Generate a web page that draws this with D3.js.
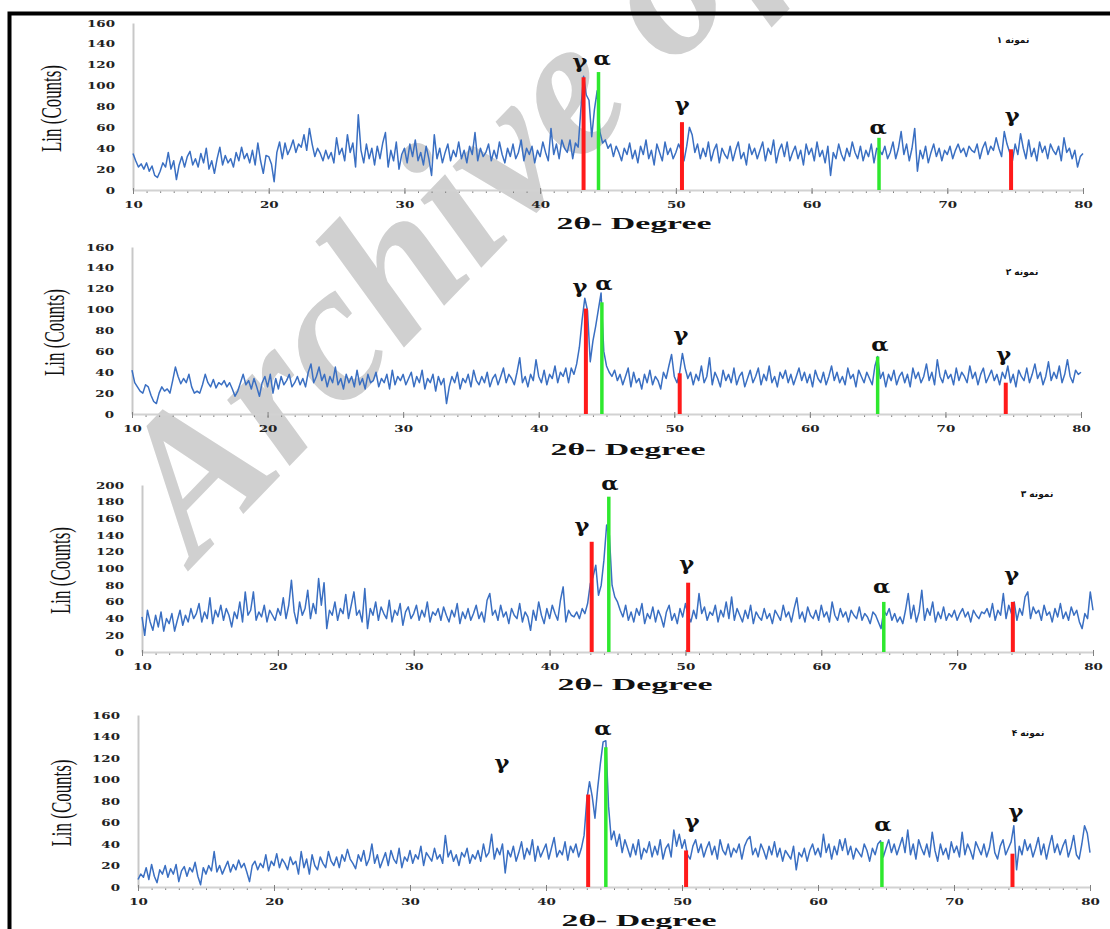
<!DOCTYPE html>
<html>
<head>
<meta charset="utf-8">
<script src="https://cdn.jsdelivr.net/npm/d3@7/dist/d3.min.js"></script>
<style>
  html, body { margin: 0; padding: 0; background: #fff; }
  svg { display: block; }
</style>
</head>
<body>
<div id="chart"></div>
<script>
// XRD scans, 2theta 10..80 read every 0.2 degree
const scanStart = 10;
const scanStep = 0.2;
const xTicks = [10, 20, 30, 40, 50, 60, 70, 80];
const yTicks160 = [0, 20, 40, 60, 80, 100, 120, 140, 160];
const yTicks200 = [0, 20, 40, 60, 80, 100, 120, 140, 160, 180, 200];
const sampleTitles = ['نمونه ۱', 'نمونه ۲', 'نمونه ۳', 'نمونه ۴'];

const counts1 = [
  35, 28, 22, 25, 20, 26, 18, 23, 14, 12,
  18, 26, 22, 36, 20, 28, 10, 24, 32, 22,
  32, 37, 24, 30, 22, 35, 26, 40, 20, 28,
  16, 30, 41, 24, 33, 26, 30, 22, 36, 28,
  41, 30, 35, 26, 38, 24, 45, 28, 16, 33,
  32, 25, 8, 36, 46, 30, 45, 34, 40, 48,
  36, 44, 41, 53, 38, 59, 44, 32, 40, 35,
  28, 38, 30, 36, 26, 50, 34, 40, 28, 53,
  36, 45, 22, 72, 38, 26, 44, 30, 40, 24,
  42, 30, 45, 55, 22, 38, 28, 46, 20, 34,
  40, 26, 44, 32, 48, 28, 36, 24, 42, 30,
  14, 53, 30, 40, 26, 36, 44, 28, 38, 32,
  46, 30, 38, 26, 42, 34, 55, 28, 40, 32,
  36, 44, 28, 38, 30, 46, 34, 26, 40, 32,
  44, 30, 36, 48, 28, 40, 34, 42, 26, 38,
  32, 46, 36, 28, 59, 34, 44, 30, 48, 40,
  36, 48, 30, 45, 41, 77, 109, 91, 86, 51,
  77, 95, 56, 45, 48, 40, 44, 32, 42, 36,
  28, 40, 34, 45, 30, 38, 26, 42, 34, 48,
  30, 38, 24, 44, 36, 28, 46, 34, 40, 30,
  36, 44, 38, 28, 42, 60, 53, 36, 44, 30,
  40, 32, 46, 28, 38, 44, 26, 40, 34, 30,
  42, 28, 38, 46, 30, 36, 24, 44, 34, 40,
  30, 38, 46, 28, 40, 34, 48, 26, 38, 44,
  32, 46, 28, 36, 42, 30, 38, 24, 44, 34,
  40, 28, 46, 32, 38, 26, 42, 14, 36, 30,
  44, 34, 28, 40, 32, 46, 36, 30, 42, 28,
  38, 32, 44, 26, 40, 38, 34, 42, 30, 36,
  46, 30, 40, 56, 34, 44, 28, 40, 59, 18,
  38, 30, 42, 26, 36, 44, 32, 40, 28, 38,
  34, 42, 30, 38, 44, 36, 40, 32, 42, 38,
  36, 44, 30, 40, 46, 34, 42, 38, 50, 40,
  32, 56, 44, 36, 28, 44, 34, 54, 40, 30,
  48, 32, 40, 28, 46, 36, 42, 30, 44, 38,
  34, 42, 28, 50, 36, 40, 30, 38, 22, 32,
  35
];

const counts2 = [
  42, 30, 26, 22, 20, 28, 26, 18, 12, 10,
  20, 26, 22, 24, 20, 32, 45, 36, 29, 34,
  30, 38, 26, 20, 22, 20, 28, 38, 30, 26,
  33, 25, 30, 28, 32, 26, 30, 24, 17, 22,
  30, 38, 28, 32, 24, 34, 26, 17, 30, 36,
  26, 38, 20, 34, 24, 36, 28, 32, 38, 26,
  30, 36, 28, 34, 26, 40, 48, 30, 36, 45,
  32, 38, 26, 36, 30, 45, 28, 34, 24, 38,
  30, 36, 26, 42, 28, 34, 24, 38, 30, 32,
  40, 26, 34, 30, 38, 24, 42, 28, 36, 32,
  38, 28, 34, 40, 26, 36, 30, 42, 24, 34,
  30, 38, 22, 36, 28, 34, 10, 26, 36, 30,
  40, 24, 34, 30, 38, 26, 42, 32, 28, 36,
  30, 40, 26, 34, 38, 28, 36, 44, 30, 38,
  34, 28, 40, 54, 30, 36, 26, 38, 32, 52,
  36, 30, 42, 28, 38, 34, 46, 30, 40, 36,
  44, 30, 44, 38, 48, 64, 90, 111, 99, 50,
  70, 84, 100, 116, 60, 46, 40, 36, 42, 32,
  38, 28, 36, 44, 26, 40, 30, 34, 24, 38,
  30, 42, 28, 36, 32, 24, 40, 34, 46, 57,
  36, 30, 40, 58, 44, 34, 40, 28, 38, 32,
  46, 30, 36, 54, 28, 40, 34, 26, 42, 32,
  38, 30, 44, 28, 36, 40, 26, 34, 42, 30,
  36, 44, 28, 38, 32, 46, 30, 36, 26, 40,
  34, 42, 30, 38, 28, 36, 44, 32, 40, 30,
  38, 26, 42, 34, 30, 40, 28, 36, 46, 32,
  40, 30, 36, 28, 44, 34, 38, 26, 42, 36,
  30, 40, 34, 28, 46, 55, 34, 40, 26, 38,
  32, 42, 28, 36, 40, 30, 38, 26, 44, 34,
  40, 30, 36, 48, 32, 40, 28, 52, 36, 30,
  42, 34, 38, 28, 44, 32, 40, 36, 30, 46,
  34, 40, 28, 38, 44, 30, 36, 42, 32, 38,
  28, 40, 34, 46, 30, 38, 26, 42, 36, 32,
  44, 30, 38, 48, 34, 40, 28, 36, 50, 32,
  40, 34, 46, 30, 38, 52, 36, 30, 42, 38,
  40
];

const counts3 = [
  42, 20, 50, 36, 26, 44, 30, 48, 25, 40,
  34, 46, 25, 38, 50, 32, 44, 36, 52, 40,
  46, 58, 36, 48, 40, 65, 34, 50, 42, 56,
  38, 52, 44, 30, 48, 40, 60, 36, 72, 44,
  50, 72, 38, 48, 42, 56, 36, 50, 44, 38,
  52, 44, 65, 40, 56, 86, 48, 34, 60, 44,
  52, 74, 40, 58, 46, 88, 56, 83, 28, 50,
  44, 60, 38, 52, 46, 69, 40, 56, 72, 44,
  50, 36, 76, 28, 52, 44, 60, 38, 54, 46,
  40, 62, 36, 50, 44, 58, 32, 48, 54, 40,
  46, 56, 38, 50, 42, 60, 36, 48, 44, 52,
  38, 54, 44, 36, 50, 42, 58, 34, 48, 40,
  52, 38, 46, 56, 40, 48, 36, 62, 70, 44,
  50, 38, 56, 42, 48, 34, 52, 44, 40, 58,
  36, 48, 42, 26, 50, 38, 60, 44, 34, 52,
  40, 56, 46, 38, 62, 78, 36, 50, 44, 42,
  48, 40, 52, 46, 58, 82, 90, 104, 68, 80,
  110, 152, 140, 80, 66, 60, 50, 42, 56, 38,
  48, 36, 52, 44, 58, 34, 46, 40, 54, 36,
  50, 42, 30, 48, 56, 38, 46, 34, 52, 42,
  58, 44, 36, 50, 40, 70, 46, 54, 38, 48,
  44, 56, 36, 50, 42, 60, 40, 66, 38, 52,
  44, 36, 50, 40, 56, 34, 48, 42, 38, 52,
  40, 46, 34, 50, 44, 38, 56, 42, 48, 36,
  52, 65, 40, 48, 36, 54, 44, 40, 50, 38,
  56, 42, 48, 36, 60, 44, 38, 52, 42, 48,
  36, 50, 44, 40, 54, 38, 46, 42, 34, 48,
  44, 36, 28, 50, 44, 52, 38, 46, 36, 42,
  34, 50, 70, 40, 56, 36, 48, 74, 38, 52,
  44, 60, 36, 48, 40, 54, 38, 46, 42, 50,
  38, 46, 52, 42, 48, 36, 50, 44, 40, 48,
  46, 52, 42, 58, 38, 50, 44, 70, 40, 56,
  46, 60, 38, 52, 44, 66, 72, 40, 54, 46,
  50, 38, 56, 44, 48, 36, 52, 42, 58, 40,
  48, 38, 54, 44, 50, 36, 28, 46, 40, 72,
  50
];

const counts4 = [
  7, 12, 9, 18, 7, 21, 10, 4, 16, 12,
  20, 9, 17, 12, 21, 5, 15, 19, 10, 18,
  14, 23, 10, 2, 18, 12, 20, 15, 33, 14,
  20, 12, 18, 24, 14, 21, 16, 25, 18, 22,
  14, 5, 20, 24, 16, 22, 18, 30, 15, 24,
  20, 31, 18, 26, 22, 16, 28, 21, 24, 12,
  33, 18, 26, 12, 30, 20, 16, 28, 22, 18,
  33, 24, 20, 28, 18, 30, 24, 35, 26, 22,
  17, 30, 24, 34, 20, 26, 40, 22, 30, 18,
  25, 32, 20, 34, 26, 22, 36, 18, 28, 24,
  34, 22, 30, 26, 38, 20, 32, 28, 24, 36,
  26, 30, 22, 48, 28, 34, 24, 30, 20, 32,
  28, 36, 22, 30, 26, 34, 24, 40, 28, 32,
  49, 26, 36, 30, 40, 13, 34, 28, 38, 24,
  32, 42, 26, 36, 30, 44, 24, 38, 28, 34,
  40, 26, 36, 46, 28, 34, 30, 42, 25, 38,
  32, 40, 28, 36, 48, 81, 98, 84, 64, 92,
  115, 135, 136, 75, 44, 52, 38, 49, 32, 44,
  36, 28, 40, 30, 44, 26, 36, 32, 42, 28,
  38, 30, 44, 26, 36, 40, 28, 53, 38, 49,
  36, 44, 30, 26, 38, 44, 32, 40, 28, 36,
  42, 30, 38, 26, 44, 34, 30, 40, 28, 36,
  32, 40, 26, 38, 44, 47, 30, 36, 28, 40,
  34, 26, 38, 30, 42, 28, 36, 24, 34, 30,
  26, 38, 16, 32, 28, 36, 24, 34, 40, 30,
  36, 28, 49, 32, 40, 26, 38, 30, 44, 34,
  45, 30, 38, 26, 36, 32, 28, 40, 34, 24,
  36, 30, 40, 43, 28, 36, 44, 32, 40, 30,
  38, 46, 32, 53, 30, 40, 26, 44, 36, 30,
  40, 28, 51, 34, 24, 40, 30, 36, 26, 42,
  32, 38, 28, 51, 30, 40, 34, 26, 42, 36,
  30, 40, 28, 36, 51, 32, 26, 38, 44, 30,
  36, 42, 57, 16, 38, 30, 44, 34, 40, 28,
  36, 46, 30, 40, 26, 38, 48, 32, 40, 30,
  38, 44, 28, 36, 48, 30, 26, 40, 57, 50,
  32
];

// reference (card) lines: phase, 2theta, height in counts
const refLines1 = [
  { phase: 'gamma', angle: 43.2, counts: 108 },
  { phase: 'alpha', angle: 44.3, counts: 113 },
  { phase: 'gamma', angle: 50.45, counts: 65 },
  { phase: 'alpha', angle: 64.97, counts: 50 },
  { phase: 'gamma', angle: 74.7, counts: 39 }
];
const refLines2 = [
  { phase: 'gamma', angle: 43.48, counts: 101 },
  { phase: 'alpha', angle: 44.66, counts: 107 },
  { phase: 'gamma', angle: 50.4, counts: 39 },
  { phase: 'alpha', angle: 65.0, counts: 55 },
  { phase: 'gamma', angle: 74.45, counts: 30 }
];
const refLines3 = [
  { phase: 'gamma', angle: 43.1, counts: 132 },
  { phase: 'alpha', angle: 44.36, counts: 186 },
  { phase: 'gamma', angle: 50.2, counts: 83 },
  { phase: 'alpha', angle: 64.6, counts: 60 },
  { phase: 'gamma', angle: 74.1, counts: 60 }
];
const refLines4 = [
  { phase: 'gamma', angle: 43.1, counts: 86 },
  { phase: 'alpha', angle: 44.4, counts: 130 },
  { phase: 'gamma', angle: 50.3, counts: 34 },
  { phase: 'alpha', angle: 64.7, counts: 42 },
  { phase: 'gamma', angle: 74.3, counts: 31 }
];

// phase symbols placed over the peaks (2theta, counts)
const phaseLabels1 = [
  { phase: 'gamma', angle: 42.94, counts: 122 },
  { phase: 'alpha', angle: 44.56, counts: 125 },
  { phase: 'gamma', angle: 50.46, counts: 81 },
  { phase: 'alpha', angle: 64.9, counts: 59 },
  { phase: 'gamma', angle: 74.78, counts: 70 }
];
const phaseLabels2 = [
  { phase: 'gamma', angle: 43.04, counts: 121 },
  { phase: 'alpha', angle: 44.81, counts: 124 },
  { phase: 'gamma', angle: 50.49, counts: 75 },
  { phase: 'alpha', angle: 65.16, counts: 66 },
  { phase: 'gamma', angle: 74.3, counts: 56 }
];
const phaseLabels3 = [
  { phase: 'gamma', angle: 42.38, counts: 150 },
  { phase: 'alpha', angle: 44.44, counts: 200 },
  { phase: 'gamma', angle: 50.1, counts: 105 },
  { phase: 'alpha', angle: 64.45, counts: 77 },
  { phase: 'gamma', angle: 74.01, counts: 91 }
];
const phaseLabels4 = [
  { phase: 'gamma', angle: 36.76, counts: 115 },
  { phase: 'alpha', angle: 44.19, counts: 146 },
  { phase: 'gamma', angle: 50.74, counts: 60 },
  { phase: 'alpha', angle: 64.78, counts: 57 },
  { phase: 'gamma', angle: 74.56, counts: 69 }
];

const phaseSymbol = { gamma: 'γ', alpha: 'α' };
const phaseColor = { gamma: '#ff1a1a', alpha: '#2ee82e' };

const width = 1110;
const height = 929;

const panels = [
  { title: sampleTitles[0], counts: counts1, refs: refLines1, labels: phaseLabels1, yTicks: yTicks160,
    left: 133, right: 1083, bottom: 190, top: 23, yTitleX: 61, titleX: 1013, titleY: 43, xTitleX: 634, xTitleY: 229 },
  { title: sampleTitles[1], counts: counts2, refs: refLines2, labels: phaseLabels2, yTicks: yTicks160,
    left: 132, right: 1081, bottom: 414, top: 247, yTitleX: 64, titleX: 1022, titleY: 275, xTitleX: 628, xTitleY: 455 },
  { title: sampleTitles[2], counts: counts3, refs: refLines3, labels: phaseLabels3, yTicks: yTicks200,
    left: 142, right: 1093, bottom: 652, top: 485, yTitleX: 70, titleX: 1037, titleY: 497, xTitleX: 635, xTitleY: 690 },
  { title: sampleTitles[3], counts: counts4, refs: refLines4, labels: phaseLabels4, yTicks: yTicks160,
    left: 138, right: 1090, bottom: 887, top: 715, yTitleX: 71, titleX: 1028, titleY: 736, xTitleX: 639, xTitleY: 926 }
];

const svg = d3.select('#chart').append('svg')
  .attr('width', width)
  .attr('height', height);

svg.append('rect').attr('width', width).attr('height', height).attr('fill', '#fff');

// watermark behind everything
svg.append('text')
  .attr('transform', 'translate(195,564) rotate(-46)')
  .attr('font-family', 'Liberation Serif')
  .attr('font-weight', 'bold')
  .attr('font-style', 'italic')
  .attr('font-size', 198)
  .attr('fill', '#d0d0d0')
  .text('Archive of SID');

const tickScale = 1.58;

function drawPanel(p) {
  const x = d3.scaleLinear().domain([10, 80]).range([p.left, p.right]);
  const y = d3.scaleLinear().domain([0, d3.max(p.yTicks)]).range([p.bottom, p.top]);
  const g = svg.append('g');

  // y axis
  const yAxisG = g.append('g')
    .attr('transform', `translate(${p.left},0)`)
    .call(d3.axisLeft(y).tickValues(p.yTicks).tickSize(0).tickSizeOuter(0));
  yAxisG.select('.domain').attr('stroke', '#c8c8c8').attr('stroke-width', 2);
  yAxisG.selectAll('text')
    .attr('font-family', 'DejaVu Serif')
    .attr('font-weight', 'bold')
    .attr('font-size', 8.5)
    .attr('fill', '#222')
    .attr('x', -18 / tickScale)
    .attr('dy', '0.36em')
    .attr('transform', `scale(${tickScale},1)`);

  // x axis: minor ticks every degree, labels at tens
  const minorG = g.append('g')
    .attr('transform', `translate(0,${p.bottom})`)
    .call(d3.axisBottom(x).tickValues(d3.range(11, 80)).tickSize(3).tickFormat(''));
  minorG.select('.domain').remove();
  minorG.selectAll('line').attr('stroke', '#808080').attr('y1', 1);

  const xAxisG = g.append('g')
    .attr('transform', `translate(0,${p.bottom})`)
    .call(d3.axisBottom(x).tickValues(xTicks).tickSize(4).tickSizeOuter(0));
  xAxisG.select('.domain').attr('stroke', '#d2d2d2').attr('stroke-width', 2);
  xAxisG.selectAll('line').attr('stroke', '#808080').attr('y1', -2);
  xAxisG.selectAll('text')
    .attr('font-family', 'DejaVu Serif')
    .attr('font-weight', 'bold')
    .attr('font-size', 8.5)
    .attr('fill', '#222')
    .attr('y', 18)
    .attr('dy', null)
    .attr('transform', `scale(${tickScale},1)`);

  // scan
  const line = d3.line()
    .x((d, i) => x(scanStart + i * scanStep))
    .y(d => y(d));

  g.append('path')
    .datum(p.counts)
    .attr('fill', 'none')
    .attr('stroke', '#3a6fc2')
    .attr('stroke-width', 1.5)
    .attr('stroke-linejoin', 'round')
    .attr('d', line);

  // reference lines
  g.selectAll('.ref')
    .data(p.refs)
    .join('line')
    .attr('class', 'ref')
    .attr('x1', d => x(d.angle))
    .attr('x2', d => x(d.angle))
    .attr('y1', y(0))
    .attr('y2', d => y(d.counts))
    .attr('stroke', d => phaseColor[d.phase])
    .attr('stroke-width', d => (d.phase === 'gamma' ? 4 : 3.5));

  // phase symbols
  g.selectAll('.phase')
    .data(p.labels)
    .join('text')
    .attr('class', 'phase')
    .attr('transform', d => `translate(${x(d.angle)},${y(d.counts)}) scale(1.25,1)`)
    .attr('text-anchor', 'middle')
    .attr('dy', '0.3em')
    .attr('font-family', 'DejaVu Serif')
    .attr('font-weight', 'bold')
    .attr('font-size', 18)
    .attr('fill', '#111')
    .text(d => phaseSymbol[d.phase]);

  // axis titles
  g.append('text')
    .attr('transform', `translate(${p.yTitleX},${(p.top + p.bottom) / 2 + 2}) rotate(-90)`)
    .attr('text-anchor', 'middle')
    .attr('font-family', 'Liberation Serif')
    .attr('font-size', 30)
    .attr('textLength', 87)
    .attr('lengthAdjust', 'spacingAndGlyphs')
    .attr('fill', '#111')
    .text('Lin (Counts)');

  g.append('text')
    .attr('x', p.xTitleX)
    .attr('y', p.xTitleY)
    .attr('text-anchor', 'middle')
    .attr('font-family', 'Liberation Serif')
    .attr('font-weight', 'bold')
    .attr('font-size', 17)
    .attr('textLength', 155)
    .attr('lengthAdjust', 'spacingAndGlyphs')
    .attr('fill', '#111')
    .text('2θ- Degree');

  g.append('text')
    .attr('x', p.titleX)
    .attr('y', p.titleY)
    .attr('text-anchor', 'middle')
    .attr('font-family', 'DejaVu Sans')
    .attr('font-weight', 'bold')
    .attr('font-size', 9)
    .attr('fill', '#111')
    .text(p.title);
}

panels.forEach(drawPanel);

// page frame (top and left edges only)
svg.append('path')
  .attr('d', `M9.5,${height} V13.5 H${width}`)
  .attr('fill', 'none')
  .attr('stroke', '#000')
  .attr('stroke-width', 4);
</script>
</body>
</html>
